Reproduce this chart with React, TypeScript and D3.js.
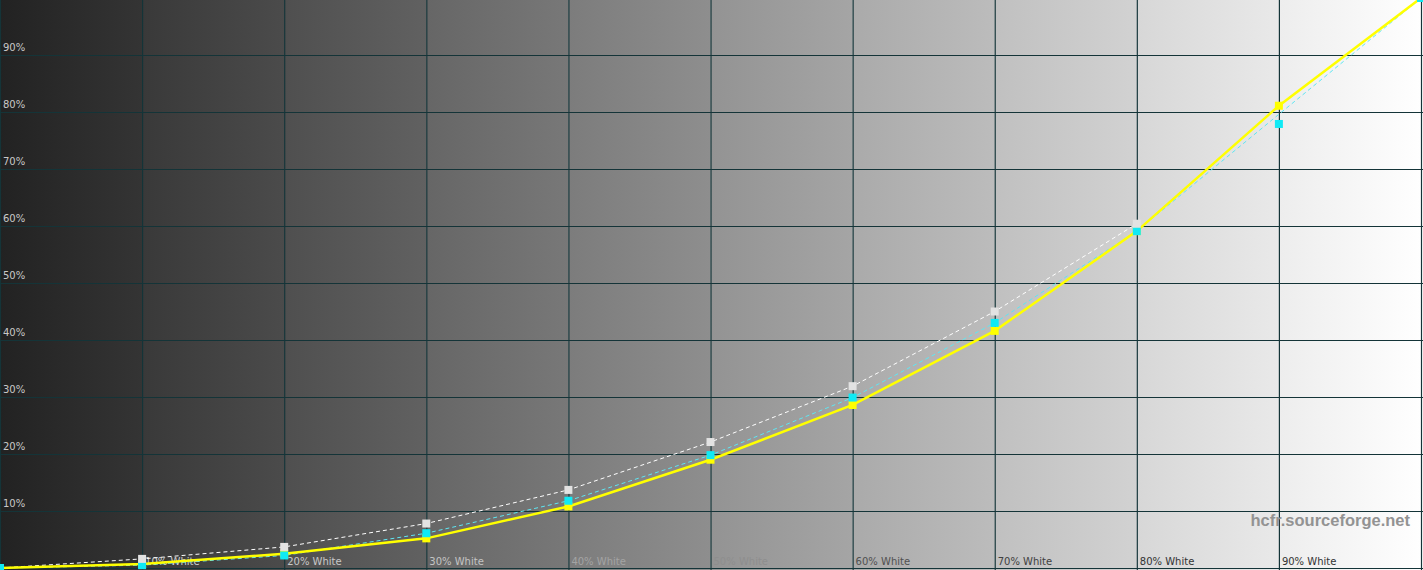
import React, { useEffect } from 'react';
import * as d3 from 'd3';

const W = 1423;
const H = 570;

// stimulus levels (% white)
const levels = [0, 10, 20, 30, 40, 50, 60, 70, 80, 90, 100];
// measured luminance (yellow)
const measured = [0, 0.7, 2.5, 5.2, 10.8, 19.0, 28.6, 41.6, 59.1, 81.1, 100];
// second measurement markers (cyan)
const secondMarks = [0, 0.5, 2.2, 6.1, 11.8, 19.8, 29.9, 43.0, 59.1, 77.9, 100];
// second measurement dashed line (cyan)
const secondLine = [0, 0.5, 2.2, 6.1, 11.8, 19.8, 29.9, 43.0, 59.1, 79.6, 100];
// reference curve (white), drawn up to 80%
const reference = [0, 1.6, 3.7, 7.8, 13.7, 22.1, 31.9, 45.0, 60.4];
const yTicks = [10, 20, 30, 40, 50, 60, 70, 80, 90];
const xLabels = ['10% White', '20% White', '30% White', '40% White', '50% White', '60% White', '70% White', '80% White', '90% White'];

const x = d3.scaleLinear().domain([0, 100]).range([0, 1421]);
const y = d3.scaleLinear().domain([0, 100]).range([568, -2]);

const GRID = '#143438';
const FONT = 'Tahoma, "DejaVu Sans", sans-serif';

function labelColor(i: number) {
  const c = ['#d0d0d0', '#c8c8c8', '#c4c4c4', '#a4a4a4', '#8e8e8e', '#505050', '#404040', '#333333', '#333333'];
  return c[i];
}

export default function App() {
  useEffect(() => {
    document.body.style.margin = '0';
  }, []);

  const line = (vals: number[]) =>
    d3
      .line<number>()
      .x((_, i) => x(levels[i]))
      .y((v) => y(v))(vals) ?? '';

  const bands = d3.range(10);
  const M = 8;

  return (
    <svg width={W} height={H} style={{ display: 'block' }}>
      <defs>
        {bands.map((k) => {
          const a = 34 + k * 22.6;
          const b = a + 18;
          return (
            <linearGradient key={k} id={`band${k}`} x1="0" x2="1" y1="0" y2="0">
              <stop offset="0" stopColor={d3.rgb(a, a, a).formatHex()} />
              <stop offset="1" stopColor={d3.rgb(b, b, b).formatHex()} />
            </linearGradient>
          );
        })}
      </defs>
      {bands.map((k) => (
        <rect
          key={k}
          x={x(k * 10)}
          y={0}
          width={x(k * 10 + 10) - x(k * 10) + (k === 9 ? 2 : 0)}
          height={H}
          fill={`url(#band${k})`}
        />
      ))}
      {/* grid */}
      {levels.map((v) => (
        <line key={'gx' + v} x1={x(v) + 0.5} x2={x(v) + 0.5} y1={0} y2={H} stroke={GRID} strokeWidth={1.2} />
      ))}
      {levels.slice(0, 10).map((v) => (
        <line key={'gy' + v} x1={0} x2={W} y1={y(v) + 0.5} y2={y(v) + 0.5} stroke={GRID} strokeWidth={1.2} />
      ))}
      {/* y labels */}
      {yTicks.map((v) => (
        <text key={'yl' + v} x={3} y={y(v) - 4} fontSize={10} fontFamily={FONT} fill="#c8c8c8">
          {v}%
        </text>
      ))}
      {/* x labels */}
      {xLabels.map((t, i) => (
        <text key={t} x={x(levels[i + 1]) + 3} y={565} fontSize={10} fontFamily={FONT} fill={labelColor(i)}>
          {t}
        </text>
      ))}
      <text
        x={1410}
        y={526}
        textAnchor="end"
        fontSize={16.5}
        fontWeight="bold"
        fontFamily='Arial, "Liberation Sans", sans-serif'
        fill="#939393"
      >
        hcfr.sourceforge.net
      </text>
      {/* curves */}
      <path d={line(reference)} fill="none" stroke="#ffffff" strokeWidth={1} strokeDasharray="4,3" />
      <path d={line(secondLine)} fill="none" stroke="#5fe6f2" strokeWidth={1} strokeDasharray="4,3" />
      <path d={line(measured)} fill="none" stroke="#ffff00" strokeWidth={2.5} />
      {measured.map((v, i) => (
        <rect key={'m' + i} x={x(levels[i]) - M / 2} y={y(v) - M / 2} width={M} height={M} fill="#ffff00" />
      ))}
      {secondMarks.map((v, i) => (
        <rect key={'s' + i} x={x(levels[i]) - M / 2} y={y(v) - M / 2} width={M} height={M} fill="#10eaf5" />
      ))}
      {reference.map((v, i) =>
        i === 0 ? null : (
          <rect key={'r' + i} x={x(levels[i]) - M / 2} y={y(v) - M / 2} width={M} height={M} fill="#e2e2e2" />
        )
      )}
    </svg>
  );
}
